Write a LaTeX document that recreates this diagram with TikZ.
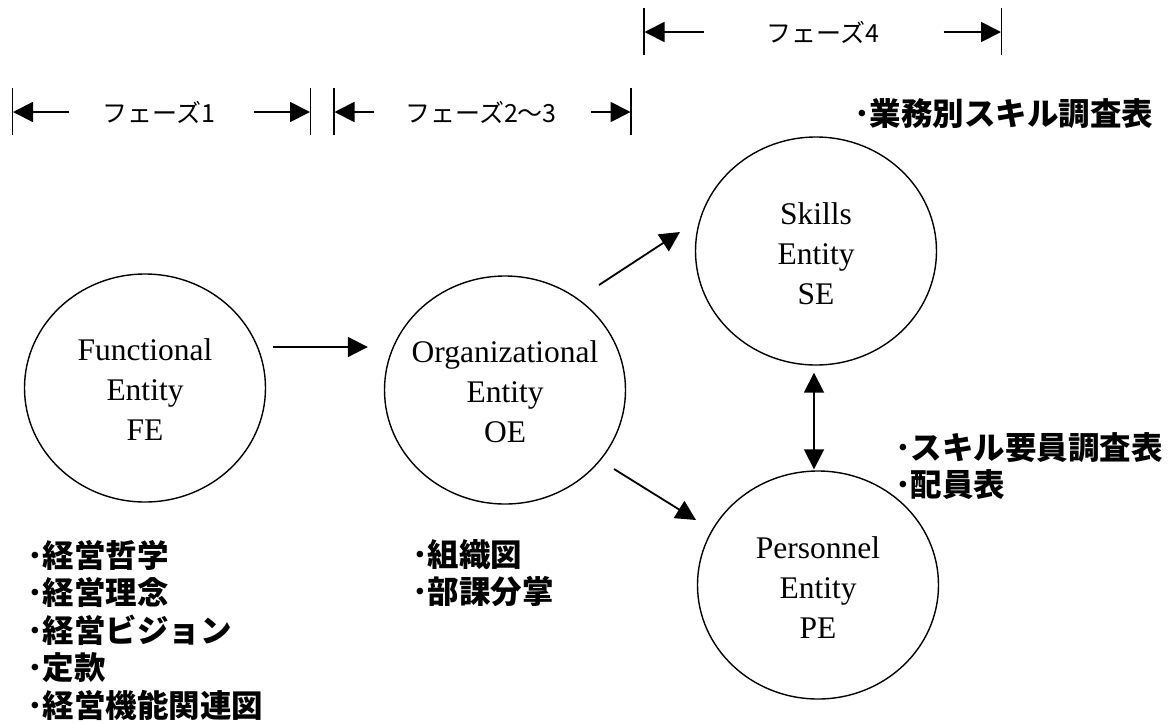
\documentclass[tikz,border=0pt]{standalone}
\usepackage{fontspec}
\setmainfont{Liberation Serif}
\newfontfamily\jp{Noto Sans CJK JP}
\usetikzlibrary{arrows.meta,shapes.geometric,calc}
\begin{document}
\begin{tikzpicture}[x=1pt,y=-1pt,
  ent/.style={ellipse, draw, line width=1.4pt, minimum width=241pt, minimum height=228pt, inner sep=0pt},
  enttext/.style={align=center, font=\fontsize{31.5}{40}\selectfont, inner sep=0pt},
  arr/.style={line width=1.8pt, -{Triangle[length=20pt,width=20pt]}},
  darr/.style={line width=1.8pt, {Triangle[length=20pt,width=20pt]}-{Triangle[length=20pt,width=20pt]}},
  tickline/.style={line width=1.8pt},
  phase/.style={font=\jp\fontsize{25}{30}\selectfont, inner sep=0pt},
  list/.style={font=\jp\bfseries\fontsize{31.5}{37.5}\selectfont, align=left, inner sep=0pt, anchor=west},
]
\fill[white] (0,0) rectangle (1173,724);
\useasboundingbox (0,0) rectangle (1173,724);

% entities
\node[ent] (FE) at (145,388) {};
\node[enttext] (FEt) at (145,390) {Functional\\Entity\\FE};
\node[ent] (OE) at (505,390) {};
\node[enttext] (OEt) at (505,392) {Organizational\\Entity\\OE};
\node[ent] (SE) at (816,251) {};
\node[enttext] (SEt) at (816,254) {Skills\\Entity\\SE};
\node[ent] (PE) at (818,585) {};
\node[enttext] (PEt) at (818,588) {Personnel\\Entity\\PE};

% connectors
\draw[arr] ($(FE.east)+(7,-41)$) -- ($(OE.west)+(-16,-43)$);
\draw[arr] ($(OE.center)+(94,-105)$) -- ($(SE.center)+(-136,-19)$);
\draw[arr] ($(OE.center)+(109,79)$) -- ($(PE.center)+(-122,-65)$);
\draw[darr] ($(SE.south)+(-2,7)$) -- ($(PE.north)+(-4,-1)$);

% phase bars
\coordinate (p1a) at (12.5,88);  \coordinate (p1b) at (12.5,135);
\coordinate (p1c) at (310.5,88); \coordinate (p1d) at (310.5,135);
\coordinate (p1l) at (13,112);   \coordinate (p1r) at (310,112);
\coordinate (p1lt) at (69,112);  \coordinate (p1rt) at (254,112);
\draw[tickline] (p1a) -- (p1b);
\draw[tickline] (p1c) -- (p1d);
\node[phase] (ph1) at (159,112) {フェーズ1};
\draw[arr] (p1lt) -- (p1l);
\draw[arr] (p1rt) -- (p1r);

\coordinate (p2a) at (334,88);  \coordinate (p2b) at (334,135);
\coordinate (p2c) at (631,88);  \coordinate (p2d) at (631,135);
\coordinate (p2l) at (334.5,112); \coordinate (p2r) at (630.5,112);
\coordinate (p2lt) at (374,112);  \coordinate (p2rt) at (591,112);
\draw[tickline] (p2a) -- (p2b);
\draw[tickline] (p2c) -- (p2d);
\node[phase] (ph2) at (481,112) {フェーズ2～3};
\draw[arr] (p2lt) -- (p2l);
\draw[arr] (p2rt) -- (p2r);

\coordinate (p4a) at (644,8);   \coordinate (p4b) at (644,55);
\coordinate (p4c) at (1001.5,8); \coordinate (p4d) at (1001.5,55);
\coordinate (p4l) at (644.5,32); \coordinate (p4r) at (1001,32);
\coordinate (p4lt) at (704,32);  \coordinate (p4rt) at (943.5,32);
\draw[tickline] (p4a) -- (p4b);
\draw[tickline] (p4c) -- (p4d);
\node[phase] (ph4) at (823,32) {フェーズ4};
\draw[arr] (p4lt) -- (p4l);
\draw[arr] (p4rt) -- (p4r);

% document lists
\node[list] (FEl) at (27,630) {･経営哲学\\･経営理念\\･経営ビジョン\\･定款\\･経営機能関連図};
\node[list] (OEl) at (412,573) {･組織図\\･部課分掌};
\node[list] (SEl) at (854,114) {･業務別スキル調査表};
\node[list] (PEl) at (895,466) {･スキル要員調査表\\･配員表};
\end{tikzpicture}
\end{document}
